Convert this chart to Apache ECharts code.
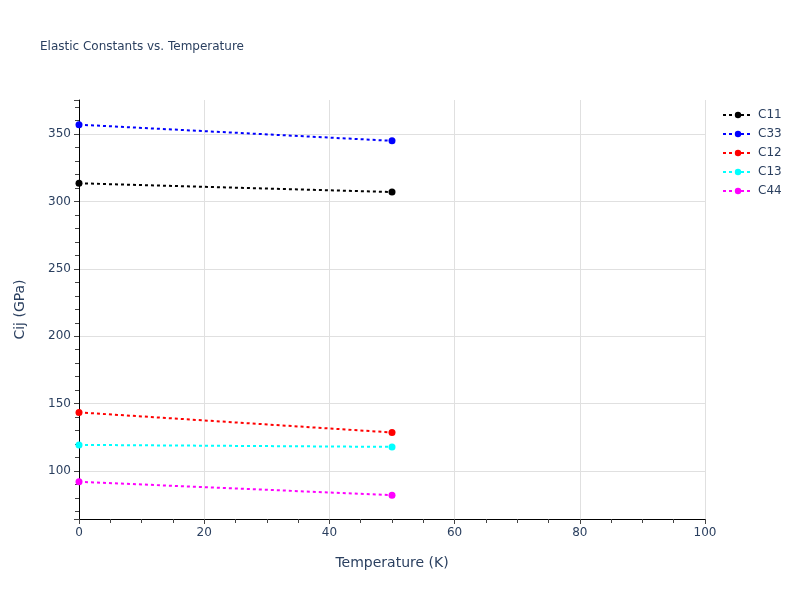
<!DOCTYPE html>
<html><head><meta charset="utf-8">
<script src="https://cdn.jsdelivr.net/npm/echarts@6/dist/echarts.min.js"></script>
<style>html,body{margin:0;padding:0;background:#fff}#c{width:800px;height:600px}</style>
</head><body><div id="c"></div>
<script>
const temperatures = [0, 50];
const C11 = [313.5, 307.0];
const C33 = [357.0, 345.0];
const C12 = [143.5, 128.6];
const C13 = [119.4, 117.9];
const C44 = [92.0, 82.1];
const seriesNames = ['C11', 'C33', 'C12', 'C13', 'C44'];
const seriesValues = [C11, C33, C12, C13, C44];
const colors = ['#000000', '#0000ff', '#ff0000', '#00ffff', '#ff00ff'];

const font = '"DejaVu Sans", Verdana, sans-serif';
const txt = '#2a3f5f';
const chart = echarts.init(document.getElementById('c'), null, {renderer: 'canvas'});
chart.setOption({
  backgroundColor: '#ffffff',
  animation: false,
  color: colors,
  title: {
    text: 'Elastic Constants vs. Temperature',
    left: 35, top: 36,
    textStyle: {fontFamily: font, fontSize: 12, fontWeight: 'normal', color: txt}
  },
  legend: {
    orient: 'vertical', left: 717, top: 104, itemGap: 7,
    itemWidth: 30, itemHeight: 8,
    textStyle: {fontFamily: font, fontSize: 12, color: txt},
    data: seriesNames
  },
  grid: {left: 79, right: 95, top: 100, bottom: 81, containLabel: false},
  xAxis: {
    type: 'value', min: 0, max: 100, interval: 20,
    name: 'Temperature (K)', nameLocation: 'middle', nameGap: 37,
    nameTextStyle: {fontFamily: font, fontSize: 14, color: txt},
    axisLine: {show: true, lineStyle: {color: '#000', width: 1}},
    axisTick: {show: true, length: 5, lineStyle: {color: '#444'}},
    minorTick: {show: true, splitNumber: 4, length: 4, lineStyle: {color: '#444'}},
    axisLabel: {fontFamily: font, fontSize: 12, color: txt, margin: 8},
    splitLine: {show: true, lineStyle: {color: '#e0e0e0', width: 1}}
  },
  yAxis: {
    type: 'value', min: 64.4, max: 375.3, splitNumber: 6,
    name: 'Cij (GPa)', nameLocation: 'middle', nameGap: 52, nameRotate: 90,
    nameTextStyle: {fontFamily: font, fontSize: 14, color: txt},
    axisLine: {show: true, lineStyle: {color: '#000', width: 1}},
    axisTick: {show: true, length: 5, lineStyle: {color: '#444'}},
    minorTick: {show: true, splitNumber: 5, length: 4, lineStyle: {color: '#444'}},
    axisLabel: {fontFamily: font, fontSize: 12, color: txt, margin: 8,
      showMinLabel: false, showMaxLabel: false,
      formatter: v => (Math.abs(v % 50) < 1e-6 ? String(v) : '')},
    splitLine: {show: true, showMinLine: false, showMaxLine: false, lineStyle: {color: '#e0e0e0', width: 1}}
  },
  series: seriesNames.map((n, i) => ({
    name: n, type: 'line',
    data: temperatures.map((t, j) => [t, seriesValues[i][j]]),
    symbol: 'circle', symbolSize: 7,
    lineStyle: {color: colors[i], width: 2, type: [3, 3]},
    itemStyle: {color: colors[i]},
    z: 3
  }))
});
</script></body></html>
